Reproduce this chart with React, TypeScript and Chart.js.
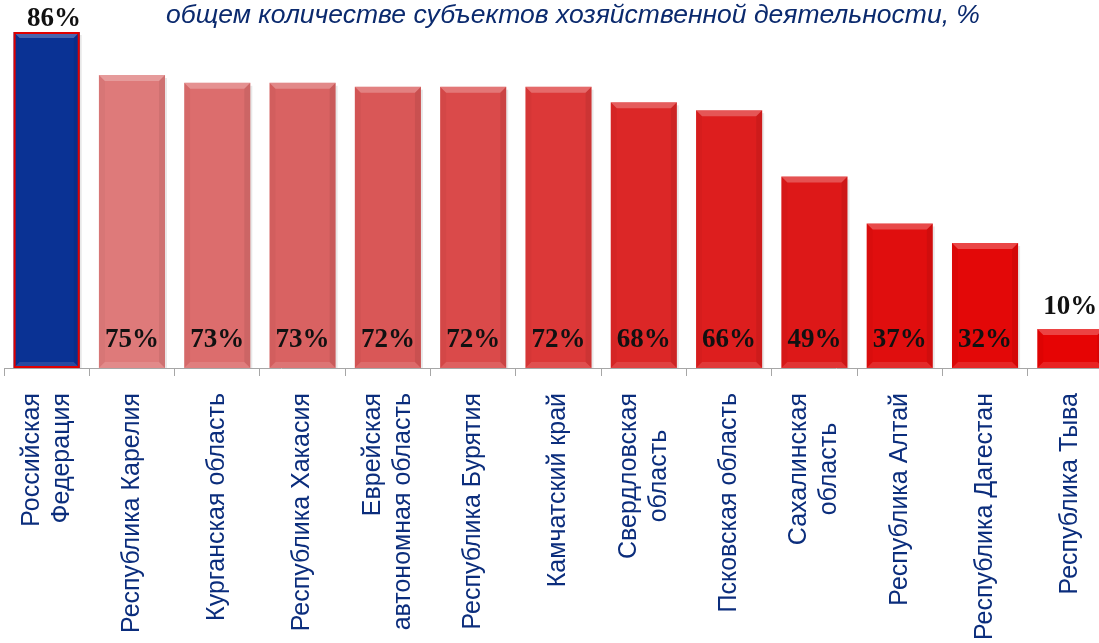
import React, { useEffect, useRef } from "react";
import { Chart, registerables } from "chart.js";

Chart.register(...registerables);

const titleText = "общем количестве субъектов хозяйственной деятельности, %";

const categories: string[][] = [
  ["Российская", "Федерация"],
  ["Республика Карелия"],
  ["Курганская область"],
  ["Республика Хакасия"],
  ["Еврейская", "автономная область"],
  ["Республика Бурятия"],
  ["Камчатский край"],
  ["Свердловская", "область"],
  ["Псковская область"],
  ["Сахалинская", "область"],
  ["Республика Алтай"],
  ["Республика Дагестан"],
  ["Республика Тыва"],
];

const values: number[] = [86, 75, 73, 73, 72, 72, 72, 68, 66, 49, 37, 32, 10];

const valueLabels: string[] = ["86%", "75%", "73%", "73%", "72%", "72%", "72%", "68%", "66%", "49%", "37%", "32%", "10%"];

const barColors: string[] = [
  "#0a3294",
  "#de7a7a",
  "#dc6d6d",
  "#d96262",
  "#d95757",
  "#da4a4a",
  "#dc3838",
  "#dc2727",
  "#dd1e1e",
  "#dd1818",
  "#e00e0e",
  "#e30808",
  "#e60404",
];

const lineAlign: string[] = ["end", "end", "end", "end", "end", "end", "end", "center", "end", "center", "end", "end", "end"];

const CANVAS_W = 1113;
const CANVAS_H = 643;
const AXIS_Y = 368;

const bevelPlugin = {
  id: "bevel",
  afterDatasetsDraw(chart: any) {
    const ctx = chart.ctx;
    const meta = chart.getDatasetMeta(0);
    meta.data.forEach((bar: any, i: number) => {
      const { x, y, base, width } = bar.getProps(["x", "y", "base", "width"], true);
      const l = x - width / 2;
      const r = x + width / 2;
      const t = y;
      const b = base;
      const d = 6;
      ctx.save();
      // outer shadow on right
      ctx.fillStyle = "rgba(0,0,0,0.09)";
      ctx.fillRect(r, t + 3, 2, b - t - 3);
      // top bevel
      ctx.fillStyle = "rgba(255,255,255,0.25)";
      ctx.beginPath();
      ctx.moveTo(l, t);
      ctx.lineTo(r, t);
      ctx.lineTo(r - d, t + d);
      ctx.lineTo(l + d, t + d);
      ctx.closePath();
      ctx.fill();
      // bottom bevel
      ctx.fillStyle = "rgba(255,255,255,0.12)";
      ctx.beginPath();
      ctx.moveTo(l, b);
      ctx.lineTo(r, b);
      ctx.lineTo(r - d, b - d);
      ctx.lineTo(l + d, b - d);
      ctx.closePath();
      ctx.fill();
      // right side darker
      ctx.fillStyle = "rgba(0,0,0,0.07)";
      ctx.beginPath();
      ctx.moveTo(r, t);
      ctx.lineTo(r, b);
      ctx.lineTo(r - d, b - d);
      ctx.lineTo(r - d, t + d);
      ctx.closePath();
      ctx.fill();
      // left side slight
      ctx.fillStyle = "rgba(0,0,0,0.03)";
      ctx.beginPath();
      ctx.moveTo(l, t);
      ctx.lineTo(l, b);
      ctx.lineTo(l + d, b - d);
      ctx.lineTo(l + d, t + d);
      ctx.closePath();
      ctx.fill();
      if (i === 0) {
        ctx.strokeStyle = "#e00000";
        ctx.lineWidth = 2;
        ctx.strokeRect(l + 1, t + 1, width - 2, b - t - 2);
      }
      ctx.restore();
    });
  },
};

const valueLabelPlugin = {
  id: "valueLabels",
  afterDatasetsDraw(chart: any) {
    const ctx = chart.ctx;
    const meta = chart.getDatasetMeta(0);
    const maxV = Math.max(...values);
    ctx.save();
    ctx.font = "bold 27px 'Liberation Serif', 'Times New Roman', serif";
    ctx.fillStyle = "#111111";
    ctx.textAlign = "center";
    ctx.textBaseline = "middle";
    meta.data.forEach((bar: any, i: number) => {
      const { x, y, base } = bar.getProps(["x", "y", "base"], true);
      const text = valueLabels[i];
      const w = ctx.measureText(text).width;
      const above = values[i] === maxV || base - y < 60;
      if (above) {
        const ly = Math.max(y - 22, 19);
        const lx = Math.max(x, chart.chartArea.left + 23 + w / 2);
        ctx.fillText(text, lx, ly);
      } else {
        ctx.fillText(text, x, base - 28);
      }
    });
    ctx.restore();
  },
};

const categoryLabelPlugin = {
  id: "categoryLabels",
  afterDraw(chart: any) {
    const ctx = chart.ctx;
    const xs = chart.scales.x;
    const lineH = 30;
    const topY = 393;
    ctx.save();
    ctx.font = "25px 'Liberation Sans', Arial, sans-serif";
    ctx.fillStyle = "#0b2d7c";
    ctx.textBaseline = "middle";
    ctx.textAlign = "right";
    categories.forEach((lines, i) => {
      const cx = xs.getPixelForValue(i);
      const n = lines.length;
      const widths = lines.map((s) => ctx.measureText(s).width);
      const W = Math.max(...widths);
      lines.forEach((s, j) => {
        const lx = cx + (j - (n - 1) / 2) * lineH;
        const shift = lineAlign[i] === "center" ? (W - widths[j]) / 2 : 0;
        ctx.save();
        ctx.translate(lx, topY + shift);
        ctx.rotate(-Math.PI / 2);
        ctx.fillText(s, 0, 0);
        ctx.restore();
      });
    });
    ctx.restore();
  },
};

export default function App() {
  const ref = useRef<HTMLCanvasElement>(null);

  useEffect(() => {
    const canvas = ref.current;
    if (!canvas) return;
    const chart = new Chart(canvas, {
      type: "bar",
      data: {
        labels: categories.map((c) => c.join(" ")),
        datasets: [
          {
            data: values,
            backgroundColor: barColors,
            borderWidth: 0,
            barPercentage: 0.775,
            categoryPercentage: 1,
          },
        ],
      },
      options: {
        responsive: false,
        animation: false,
        layout: { padding: { top: 32, left: 4, right: 0, bottom: 0 } },
        plugins: {
          legend: { display: false },
          tooltip: { enabled: false },
          title: { display: false },
        },
        scales: {
          x: {
            offset: true,
            grid: {
              display: true,
              drawOnChartArea: false,
              drawTicks: true,
              tickLength: 8,
              color: "#a6a6a6",
              offset: true,
            },
            border: { display: true, color: "#a6a6a6", width: 1 },
            ticks: { display: false },
            afterFit: (s: any) => {
              s.height = CANVAS_H - AXIS_Y;
            },
          },
          y: { display: false, min: 0, max: 86 },
        },
      } as any,
      plugins: [bevelPlugin, valueLabelPlugin, categoryLabelPlugin],
    });
    return () => chart.destroy();
  }, []);

  return (
    <div
      style={{
        position: "absolute",
        left: 0,
        top: 0,
        width: 1099,
        height: 643,
        overflow: "hidden",
        background: "#ffffff",
      }}
    >
      <canvas ref={ref} width={CANVAS_W} height={CANVAS_H} style={{ display: "block", width: CANVAS_W, height: CANVAS_H }} />
      <div
        style={{
          position: "absolute",
          top: 1,
          left: 573,
          transform: "translateX(-50%)",
          whiteSpace: "nowrap",
          fontFamily: "'Liberation Sans', Arial, sans-serif",
          fontStyle: "italic",
          fontSize: 26.5,
          lineHeight: "26px",
          color: "#0b2a6e",
        }}
      >
        {titleText}
      </div>
    </div>
  );
}
